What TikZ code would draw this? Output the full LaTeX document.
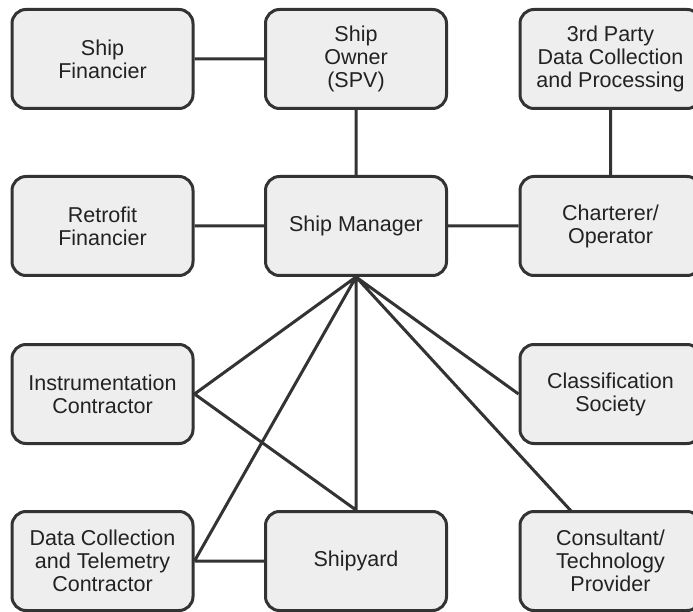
\documentclass[tikz,border=0pt]{standalone}
\usepackage{fontspec}
\setmainfont{Liberation Sans}
\usepackage{tikz}
\definecolor{boxfill}{HTML}{EEEEEE}
\definecolor{boxline}{HTML}{333333}
\definecolor{boxtext}{HTML}{222222}
\tikzstyle{party}=[rectangle, rounded corners=14pt, draw=boxline, fill=boxfill, line width=3pt, minimum width=181pt, minimum height=99pt, align=center, text=boxtext, font=\fontsize{21.5}{23}\selectfont]
\tikzstyle{link}=[draw=boxline, line width=3pt]

\begin{document}
\begin{tikzpicture}[x=1pt, y=-1pt]
    \clip (0, 0) rectangle (693, 612);
    \fill[white] (0, 0) rectangle (693, 612);
    % top row
    \node[party] (fin)   at (102.5, 59)  {Ship\\Financier};
    \node[party] (own)   at (356, 59)    {Ship\\Owner\\(SPV)};
    \node[party] (third) at (610.5, 59)  {3rd Party\\Data Collection\\and Processing};
    % second row
    \node[party] (rfin)  at (102.5, 226) {Retrofit\\Financier};
    \node[party] (mgr)   at (356, 226)   {Ship Manager};
    \node[party] (chart) at (610.5, 226) {Charterer/\\Operator};
    % third row
    \node[party] (instr) at (102.5, 394) {Instrumentation\\Contractor};
    \node[party] (cls)   at (610.5, 394) {Classification\\Society};
    % bottom row
    \node[party] (dct)   at (102.5, 561) {Data Collection\\and Telemetry\\Contractor};
    \node[party] (yard)  at (356, 561)   {Shipyard};
    \node[party] (cons)  at (610.5, 561) {Consultant/\\Technology\\Provider};
    \coordinate (ctop) at (572, 512);
    \path[link]
        (fin) -- (own) (own) -- (mgr) (third) -- (chart)
        (rfin) -- (mgr) (mgr) -- (chart)
        (mgr.south) -- (instr.east) (mgr.south) -- (dct.east)
        (mgr.south) -- (yard.north) (mgr.south) -- (cls.west)
        (mgr.south) -- (ctop)
        (instr.east) -- (yard.north) (dct) -- (yard)
    ;
\end{tikzpicture}
\end{document}
